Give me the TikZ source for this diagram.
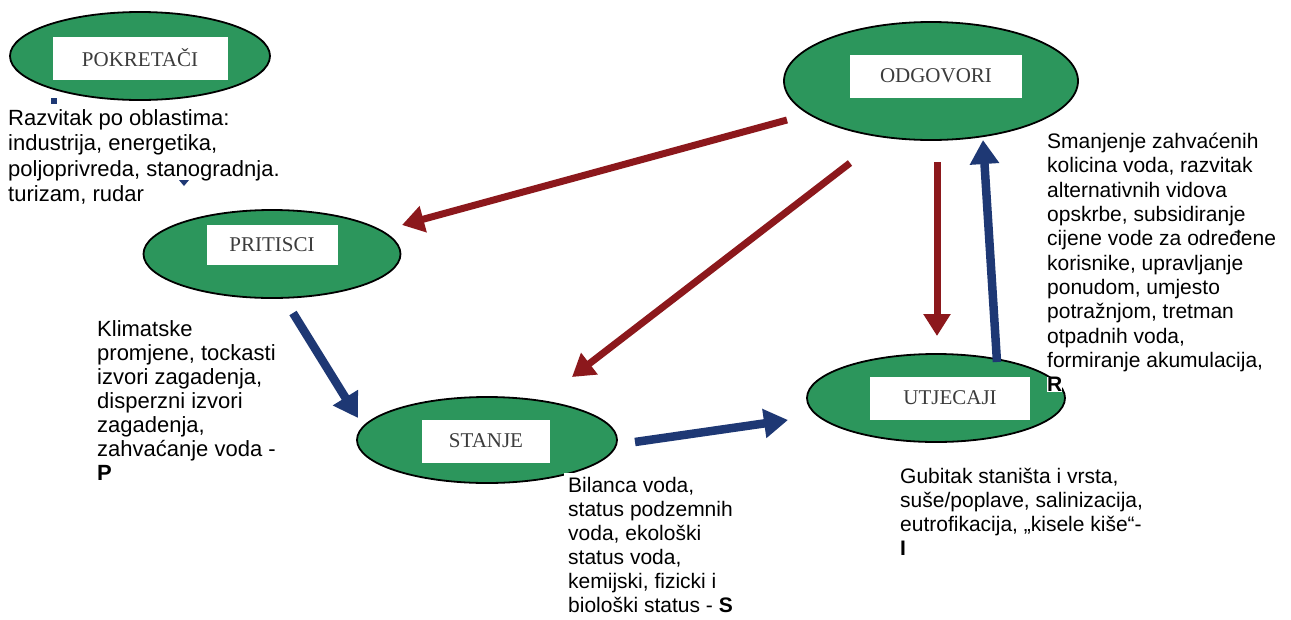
\documentclass[tikz,border=0pt]{standalone}
\usepackage{fontspec}
\setmainfont{Liberation Sans}
\newfontfamily\labelfont{Liberation Serif}
\usetikzlibrary{arrows.meta,shapes.geometric}
\definecolor{ellgreen}{RGB}{44,150,92}
\definecolor{arrred}{RGB}{140,24,28}
\definecolor{arrblue}{RGB}{30,56,116}
\definecolor{labgray}{RGB}{60,60,60}
\begin{document}
\begin{tikzpicture}[x=1pt,y=-1pt,
  ell/.style={ellipse, draw=black, line width=1.8pt, fill=ellgreen, inner sep=0pt},
  lab/.style={fill=white, inner sep=0pt, font=\labelfont\fontsize{21}{24}\selectfont, text=labgray},
  redarr/.style={draw=arrred, line width=7pt, -{Triangle[length=22pt,width=26pt]}},
  bluearr/.style={draw=arrblue, line width=8.5pt, -{Triangle[length=24pt,width=28pt]}},
  body/.style={anchor=north west, inner sep=0pt, align=left}]
\fill[white] (0,0) rectangle (1291,619);
\useasboundingbox (0,0) rectangle (1291,619);
% ellipses
\node[ell, minimum width=260, minimum height=88] (pok) at (140,56) {};
\node[ell, minimum width=257, minimum height=88] (prit) at (272,254) {};
\node[ell, minimum width=294, minimum height=118] (odg) at (931,81) {};
\node[ell, minimum width=258, minimum height=88] (utj) at (936,398) {};
\node[ell, minimum width=260, minimum height=86] (stanje) at (487,440) {};
% labels
\node[lab, minimum width=175, minimum height=43] (pokL) at (140,58) {POKRETAČI};
\node[lab, minimum width=131, minimum height=40] (pritL) at (272,245) {PRITISCI};
\node[lab, minimum width=172, minimum height=43] (odgL) at (936,76) {ODGOVORI};
\node[lab, minimum width=160, minimum height=43] (utjL) at (950,398) {UTJECAJI};
\node[lab, minimum width=128, minimum height=43] (stanjeL) at (486,441) {STANJE};
% arrow ends
\coordinate (r1s) at (787,120); \coordinate (r1e) at (402,225);
\coordinate (r2s) at (850,163); \coordinate (r2e) at (572,377);
\coordinate (r3s) at (937,162); \coordinate (r3e) at (937,336);
\coordinate (b1s) at (293,313); \coordinate (b1e) at (358,418);
\coordinate (b2s) at (635,442); \coordinate (b2e) at (788,420);
\coordinate (b3s) at (997,362); \coordinate (b3e) at (983,140);
\draw[redarr] (r1s) -- (r1e);
\draw[redarr] (r2s) -- (r2e);
\draw[redarr] (r3s) -- (r3e);
\draw[bluearr] (b1s) -- (b1e);
\draw[bluearr] (b2s) -- (b2e);
\draw[bluearr] (b3s) -- (b3e);
% small marks of a hidden arrow
\fill[arrblue] (51,98) rectangle (57,104);
\fill[arrblue] (179,180) -- (189,180) -- (184,186) -- cycle;
% texts
\node[body, font=\fontsize{22}{25.5}\selectfont] (txtA) at (8,109)
 {Razvitak po oblastima:\\industrija, energetika,\\poljoprivreda, stanogradnja.\\turizam, rudar};
\node[body, font=\fontsize{22}{24}\selectfont] (txtB) at (97,320)
 {Klimatske\\promjene, tockasti\\izvori zagadenja,\\disperzni izvori\\zagadenja,\\zahvaćanje voda -\\\textbf{P}};
\node[body, font=\fontsize{21}{24}\selectfont, fill=white, inner sep=4pt] (txtC) at (564,473)
 {Bilanca voda,\\status podzemnih\\voda, ekološki\\status voda,\\kemijski, fizicki i\\biološki status - \textbf{S}};
\node[body, font=\fontsize{21}{24.3}\selectfont] (txtD) at (1047,133)
 {Smanjenje zahvaćenih\\kolicina voda, razvitak\\alternativnih vidova\\opskrbe, subsidiranje\\cijene vode za određene\\korisnike, upravljanje\\ponudom, umjesto\\potražnjom, tretman\\otpadnih voda,\\formiranje akumulacija,\\{\fboxsep=0pt\colorbox{white}{\textbf{R}}}};
\node[body, font=\fontsize{21}{24}\selectfont] (txtE) at (900,468)
 {Gubitak staništa i vrsta,\\suše/poplave, salinizacija,\\eutrofikacija, „kisele kiše“-\\\textbf{I}};
\end{tikzpicture}
\end{document}
